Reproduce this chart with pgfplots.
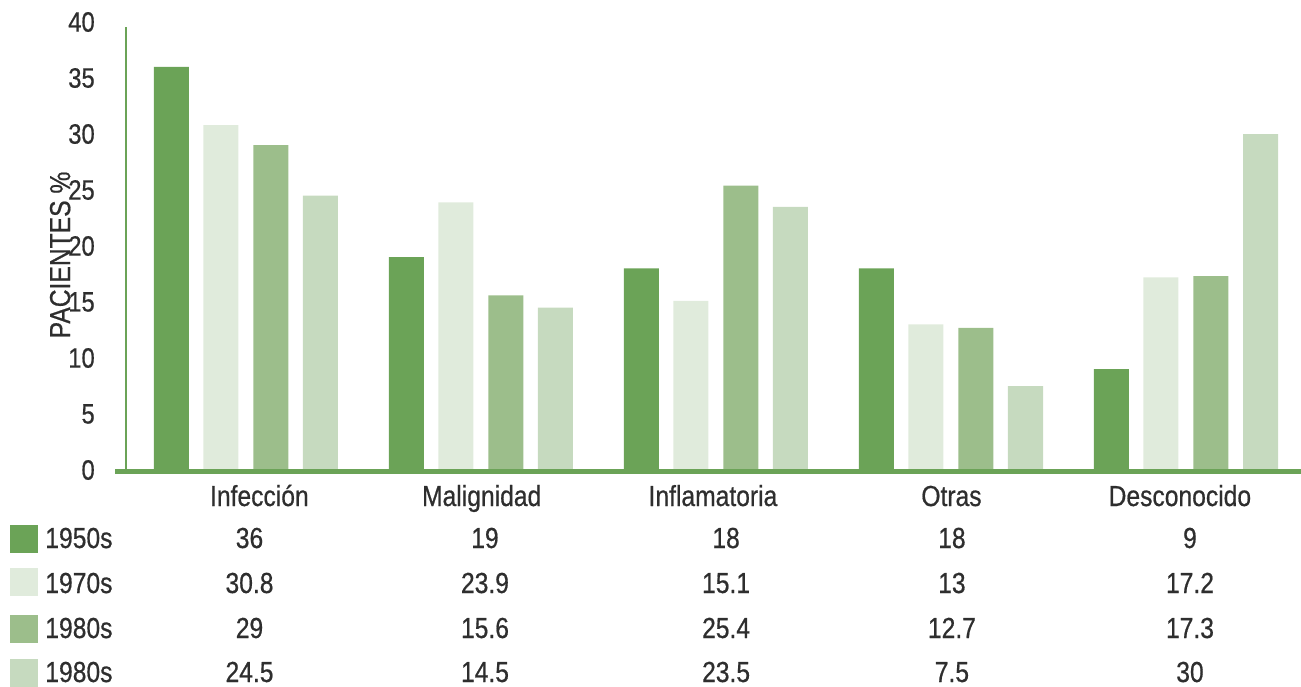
\documentclass[border=0pt]{standalone}
\usepackage{pgfplots}
\pgfplotsset{compat=1.18}
\usepackage{fontspec}
\setmainfont{Liberation Sans}[FakeStretch=0.85, FakeBold=0.6]
\definecolor{cA}{HTML}{6BA357}
\definecolor{cB}{HTML}{E0EBDC}
\definecolor{cC}{HTML}{9CBE8B}
\definecolor{cD}{HTML}{C6DABF}
\definecolor{txt}{HTML}{2E2E2E}
\begin{document}
\begin{tikzpicture}[font=\fontsize{14.5}{16}\selectfont, every node/.style={text=txt}]
\begin{axis}[
  name=ax,
  scale only axis,
  width=587.5pt, height=224pt,
  xmin=-0.51, xmax=4.49,
  ymin=0, ymax=40,
  axis line style={draw=none},
  xtick=\empty,
  ytick={0,5,...,40},
  major tick length=0pt,
  tick style={draw=none},
  /pgf/number format/assume math mode=true,
  yticklabel style={anchor=east, inner sep=0pt, xshift=-15.5pt, font=\fontsize{14}{16}\selectfont, text=txt},
  clip=false,
]
\addplot[ybar, bar width=17.5pt, bar shift=-37.25pt, fill=cA, draw=none] coordinates {(0,36) (1,19) (2,18) (3,18) (4,9)};
\addplot[ybar, bar width=17.5pt, bar shift=-12.5pt, fill=cB, draw=none] coordinates {(0,30.8) (1,23.9) (2,15.1) (3,13) (4,17.2)};
\addplot[ybar, bar width=17.5pt, bar shift=12.5pt, fill=cC, draw=none] coordinates {(0,29) (1,15.6) (2,25.4) (3,12.7) (4,17.3)};
\addplot[ybar, bar width=17.5pt, bar shift=37.25pt, fill=cD, draw=none] coordinates {(0,24.5) (1,14.5) (2,23.5) (3,7.5) (4,30)};
% axis lines
\draw[cA, line width=1.35pt] (axis cs:-0.51,0) -- (axis cs:-0.51,39.55);
\draw[cA, line width=2.3pt] ([yshift=-0.85pt]axis cs:-0.557,0) -- ([yshift=-0.85pt]axis cs:4.49,0);
% y label
\node[rotate=90, anchor=base] at ([xshift=-28pt]axis cs:-0.51,19.2) {PACIENTES \%};
% category labels
\node[anchor=base] at ([yshift=-18pt]axis cs:0.057,0) {Infección};
\node[anchor=base] at ([yshift=-18pt]axis cs:1.003,0) {Malignidad};
\node[anchor=base] at ([yshift=-18pt]axis cs:1.987,0) {Inflamatoria};
\node[anchor=base] at ([yshift=-18pt]axis cs:3.002,0) {Otras};
\node[anchor=base] at ([yshift=-18pt]axis cs:3.974,0) {Desconocido};
% table rows
\node[anchor=base] at ([yshift=-39pt]axis cs:0.015,0) {36};
\node[anchor=base] at ([yshift=-39pt]axis cs:1.017,0) {19};
\node[anchor=base] at ([yshift=-39pt]axis cs:2.043,0) {18};
\node[anchor=base] at ([yshift=-39pt]axis cs:3.004,0) {18};
\node[anchor=base] at ([yshift=-39pt]axis cs:4.017,0) {9};
\node[anchor=base] at ([yshift=-61.5pt]axis cs:0.015,0) {30.8};
\node[anchor=base] at ([yshift=-61.5pt]axis cs:1.017,0) {23.9};
\node[anchor=base] at ([yshift=-61.5pt]axis cs:2.043,0) {15.1};
\node[anchor=base] at ([yshift=-61.5pt]axis cs:3.004,0) {13};
\node[anchor=base] at ([yshift=-61.5pt]axis cs:4.017,0) {17.2};
\node[anchor=base] at ([yshift=-84pt]axis cs:0.015,0) {29};
\node[anchor=base] at ([yshift=-84pt]axis cs:1.017,0) {15.6};
\node[anchor=base] at ([yshift=-84pt]axis cs:2.043,0) {25.4};
\node[anchor=base] at ([yshift=-84pt]axis cs:3.004,0) {12.7};
\node[anchor=base] at ([yshift=-84pt]axis cs:4.017,0) {17.3};
\node[anchor=base] at ([yshift=-106pt]axis cs:0.015,0) {24.5};
\node[anchor=base] at ([yshift=-106pt]axis cs:1.017,0) {14.5};
\node[anchor=base] at ([yshift=-106pt]axis cs:2.043,0) {23.5};
\node[anchor=base] at ([yshift=-106pt]axis cs:3.004,0) {7.5};
\node[anchor=base] at ([yshift=-106pt]axis cs:4.017,0) {30};
% legend squares and labels
\fill[cA] ([xshift=-58.1pt,yshift=-41.5pt]axis cs:-0.51,0) rectangle ++(14pt,14pt);
\fill[cB] ([xshift=-58.1pt,yshift=-62.75pt]axis cs:-0.51,0) rectangle ++(14pt,14pt);
\fill[cC] ([xshift=-58.1pt,yshift=-86.5pt]axis cs:-0.51,0) rectangle ++(14pt,14pt);
\fill[cD] ([xshift=-58.1pt,yshift=-108.25pt]axis cs:-0.51,0) rectangle ++(14pt,14pt);
\node[anchor=base west, inner sep=0pt] at ([xshift=-40.6pt,yshift=-39pt]axis cs:-0.51,0) {1950s};
\node[anchor=base west, inner sep=0pt] at ([xshift=-40.6pt,yshift=-61.5pt]axis cs:-0.51,0) {1970s};
\node[anchor=base west, inner sep=0pt] at ([xshift=-40.6pt,yshift=-84pt]axis cs:-0.51,0) {1980s};
\node[anchor=base west, inner sep=0pt] at ([xshift=-40.6pt,yshift=-106pt]axis cs:-0.51,0) {1980s};
\end{axis}
\pgfresetboundingbox
\path[use as bounding box] ([xshift=-63.075pt,yshift=-108pt]ax.south west) rectangle ([xshift=587.425pt,yshift=235pt]ax.south west);
\end{tikzpicture}
\end{document}
